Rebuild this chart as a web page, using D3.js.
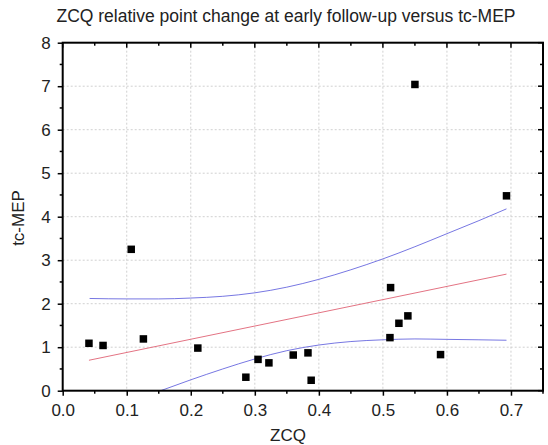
<!DOCTYPE html>
<html><head><meta charset="utf-8">
<script src="https://cdn.jsdelivr.net/npm/d3@7"></script>
<style>
body{margin:0;background:#fff;}
text{font-family:"Liberation Sans",Arial,Helvetica,sans-serif;fill:#222;}
</style></head>
<body><svg id="c" width="548" height="445"></svg>
<script>
const title = "ZCQ relative point change at early follow-up versus tc-MEP";
const xLabel = "ZCQ";
const yLabel = "tc-MEP";
const xTicks = [0,0.1,0.2,0.3,0.4,0.5,0.6,0.7];
const yTicks = [0,1,2,3,4,5,6,7,8];
const zcq = [0.041,0.063,0.107,0.126,0.211,0.286,0.305,0.322,0.360,0.383,0.388,0.511,0.512,0.525,0.539,0.550,0.590,0.693];
const mep = [1.09,1.04,3.25,1.19,0.98,0.31,0.72,0.64,0.82,0.87,0.24,1.22,2.37,1.55,1.72,7.04,0.83,4.48];
const fitX = [0.041,0.693];
const fitY = [0.70,2.68];
const upperX = [0.042,0.1,0.15,0.2,0.25,0.3,0.35,0.4,0.45,0.5,0.55,0.6,0.65,0.693];
const upperY = [2.12,2.11,2.11,2.13,2.17,2.25,2.38,2.56,2.78,3.03,3.31,3.61,3.91,4.18];
const lowerX = [0.153,0.2,0.25,0.3,0.35,0.4,0.45,0.5,0.55,0.6,0.65,0.693];
const lowerY = [0.0,0.25,0.50,0.73,0.92,1.05,1.13,1.17,1.19,1.18,1.17,1.16];

const svg = d3.select("#c");
const L=62.7, R=543, T=42.7, B=390.7;
const x = d3.scaleLinear().domain([0,0.75]).range([L,R]);
const y = d3.scaleLinear().domain([0,8]).range([B,T]);

// grid
const g = svg.append("g");
g.selectAll(".gx").data(xTicks.filter(d=>d>0)).join("line")
 .attr("x1",d=>x(d)).attr("x2",d=>x(d)).attr("y1",T).attr("y2",B)
 .attr("stroke","#d0d0d0").attr("stroke-width",1).attr("stroke-dasharray","2,2");
g.selectAll(".gy").data(yTicks.filter(d=>d>0&&d<8)).join("line")
 .attr("y1",d=>y(d)).attr("y2",d=>y(d)).attr("x1",L).attr("x2",R)
 .attr("stroke","#d0d0d0").attr("stroke-width",1).attr("stroke-dasharray","2,2");

const clip = svg.append("clipPath").attr("id","pc").append("rect")
 .attr("x",L).attr("y",T).attr("width",R-L).attr("height",B-T);

const line = d3.line().x(d=>x(d[0])).y(d=>y(d[1])).curve(d3.curveMonotoneX);
const pg = svg.append("g").attr("clip-path","url(#pc)");
pg.append("path").attr("d",line(d3.zip(upperX,upperY))).attr("fill","none").attr("stroke","#7777e2").attr("stroke-width",1);
pg.append("path").attr("d",line(d3.zip(lowerX,lowerY))).attr("fill","none").attr("stroke","#7777e2").attr("stroke-width",1);
pg.append("path").attr("d",line(d3.zip(fitX,fitY))).attr("fill","none").attr("stroke","#e37383").attr("stroke-width",1);

// points
svg.append("g").selectAll("rect").data(d3.zip(zcq,mep)).join("rect")
 .attr("x",d=>x(d[0])-3.75).attr("y",d=>y(d[1])-3.75).attr("width",7.5).attr("height",7.5).attr("fill","#000");

// axes
const minorX = d3.range(0,0.751,0.05);
const minorY = d3.range(0,8.01,0.5);
const xb = d3.axisBottom(x).tickValues(xTicks).tickFormat(d3.format(".1f")).tickSize(5).tickSizeOuter(0);
const yl = d3.axisLeft(y).tickValues(yTicks).tickFormat(d3.format("d")).tickSize(5).tickSizeOuter(0);
const ax = svg.append("g").attr("transform",`translate(0,${B})`).call(xb);
const ay = svg.append("g").attr("transform",`translate(${L},0)`).call(yl);
[ax,ay].forEach(a=>{a.select(".domain").remove(); a.selectAll(".tick line").attr("stroke","#000").attr("stroke-width",1.5); a.selectAll("text").attr("font-size",17).attr("fill","#222").style("font-family","'Liberation Sans',Arial,sans-serif");});
ax.selectAll("text").attr("dy","1.0em");
ay.selectAll("text").attr("x",-12);
// minor ticks
svg.append("g").selectAll("line").data(minorX.filter(d=>Math.round(d*100)%10!==0)).join("line")
 .attr("x1",d=>x(d)).attr("x2",d=>x(d)).attr("y1",B).attr("y2",B+3).attr("stroke","#000").attr("stroke-width",1.5);
svg.append("g").selectAll("line").data(minorY.filter(d=>d%1!==0)).join("line")
 .attr("y1",d=>y(d)).attr("y2",d=>y(d)).attr("x1",L).attr("x2",L-3).attr("stroke","#000").attr("stroke-width",1.5);
// top and right ticks (inward)
svg.append("g").selectAll("line").data(minorX).join("line")
 .attr("x1",d=>x(d)).attr("x2",d=>x(d)).attr("y1",T).attr("y2",d=>T+(Math.round(d*100)%10===0?5:3)).attr("stroke","#000").attr("stroke-width",1.5);
svg.append("g").selectAll("line").data(minorY).join("line")
 .attr("y1",d=>y(d)).attr("y2",d=>y(d)).attr("x1",R).attr("x2",d=>R-(d%1===0?5:3)).attr("stroke","#000").attr("stroke-width",1.5);
// frame
svg.append("rect").attr("x",L).attr("y",T).attr("width",R-L).attr("height",B-T)
 .attr("fill","none").attr("stroke","#000").attr("stroke-width",2);

svg.append("text").attr("x",286).attr("y",22).attr("text-anchor","middle").attr("font-size",17.5).text(title);
svg.append("text").attr("x",288).attr("y",441).attr("text-anchor","middle").attr("font-size",17).text(xLabel);
svg.append("text").attr("transform","translate(24,218) rotate(-90)").attr("text-anchor","middle").attr("font-size",17).text(yLabel);
</script></body></html>
